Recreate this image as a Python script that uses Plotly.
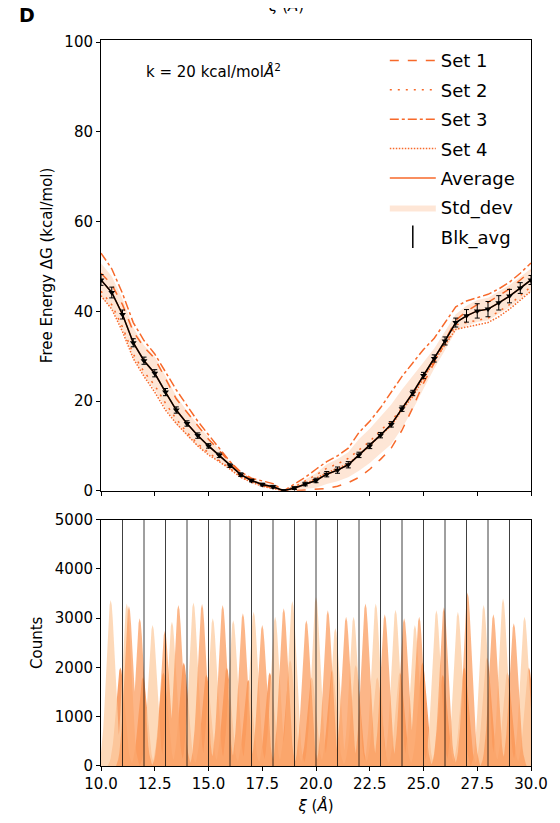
import numpy as np
import plotly.graph_objects as go
from plotly.subplots import make_subplots

# reaction coordinate (Angstrom) of the PMF points
xi = [10.0, 10.5, 11.0, 11.5, 12.0, 12.5, 13.0, 13.5, 14.0, 14.5, 15.0,
      15.5, 16.0, 16.5, 17.0, 17.5, 18.0, 18.5, 19.0, 19.5, 20.0,
      20.5, 21.0, 21.5, 22.0, 22.5, 23.0, 23.5, 24.0, 24.5, 25.0,
      25.5, 26.0, 26.5, 27.0, 27.5, 28.0, 28.5, 29.0, 29.5, 30.0]

# free energy of the four sets (kcal/mol)
set1 = [48.5, 46.0, 41.5, 35.5, 32.0, 29.5, 25.0, 20.5, 17.5, 14.5, 11.5,
        9.0, 6.3, 4.0, 2.5, 1.2, 0.6, 0.0, 0.0, 0.2, 0.4,
        0.5, 1.0, 1.8, 3.0, 4.8, 7.0, 9.5, 13.5, 18.5, 24.0,
        28.5, 33.5, 38.0, 40.0, 41.5, 42.0, 43.5, 45.0, 47.0, 49.0]
set2 = [44.5, 41.5, 36.5, 30.5, 26.5, 23.5, 19.5, 16.0, 13.0, 10.5, 8.5,
        6.8, 5.0, 3.2, 2.0, 1.4, 0.8, 0.0, 0.9, 2.2, 3.5,
        5.0, 6.0, 7.2, 9.0, 11.0, 13.5, 15.5, 18.5, 21.5, 25.5,
        29.0, 32.5, 37.0, 37.5, 38.0, 38.5, 40.0, 41.5, 43.5, 45.5]
set3 = [53.0, 49.5, 44.0, 37.5, 33.5, 30.5, 26.5, 22.5, 19.0, 15.5, 12.5,
        9.5, 6.5, 4.2, 2.8, 2.2, 1.6, 0.0, 1.5, 3.0, 4.8,
        6.5, 7.8, 9.5, 13.0, 15.5, 18.5, 22.0, 25.5, 28.5, 31.5,
        34.0, 37.5, 41.0, 42.3, 43.0, 43.8, 45.0, 46.5, 48.5, 50.8]
set4 = [43.5, 40.5, 35.5, 29.5, 25.5, 22.0, 18.0, 15.0, 12.5, 10.0, 8.0,
        6.5, 4.8, 3.0, 1.9, 1.0, 0.5, 0.0, 0.5, 1.5, 2.8,
        4.0, 5.0, 6.0, 8.0, 10.0, 12.5, 14.5, 18.0, 21.0, 25.0,
        29.0, 32.5, 36.0, 36.5, 37.0, 37.5, 38.8, 40.5, 42.5, 44.5]
average = [47.0, 44.2, 39.3, 33.0, 29.0, 26.2, 22.0, 18.0, 15.0, 12.3, 10.0,
           7.9, 5.6, 3.6, 2.3, 1.4, 0.9, 0.0, 0.6, 1.5, 2.3,
           3.7, 4.6, 5.8, 8.0, 10.0, 12.4, 14.8, 18.3, 21.8, 25.7,
           29.5, 33.4, 37.5, 39.0, 40.1, 40.5, 41.9, 43.4, 45.2, 47.0]
# block average error bars
blk_err = [1.2, 1.2, 1.0, 0.9, 0.8, 0.8, 0.8, 0.7, 0.6, 0.6, 0.5,
           0.5, 0.4, 0.4, 0.3, 0.3, 0.3, 0.2, 0.3, 0.4, 0.5,
           0.6, 0.7, 0.7, 0.6, 0.6, 0.6, 0.6, 0.6, 0.6, 0.7,
           0.8, 0.9, 1.0, 1.4, 1.6, 1.7, 1.6, 1.5, 1.2, 1.0]

# umbrella window histograms: peak centres (Angstrom) and peak counts
hist_light_c = [10.45, 11.2, 12.4, 13.3, 14.3, 15.2, 16.15, 17.1, 18.1, 18.9, 20.0,
                20.9, 21.75, 22.78, 23.7, 24.6, 25.6, 26.6, 27.8, 28.7, 29.7]
hist_light_h = [3370, 3300, 2860, 2930, 3320, 3000, 2960, 3130, 3030, 3350, 3430,
                2800, 3030, 3300, 3170, 2860, 3160, 3130, 3270, 3400, 3030]
hist_mid_c = [11.3, 11.8, 12.97, 13.6, 14.7, 15.66, 16.6, 17.5, 18.5, 19.55,
              20.55, 21.4, 22.3, 23.2, 24.1, 24.8, 25.95, 27.05, 28.25, 29.2]
hist_mid_h = [3250, 3000, 2740, 3270, 3290, 3270, 3100, 2860, 3200, 2960,
              3160, 3030, 3300, 3080, 3000, 3030, 3220, 3520, 3080, 2900]
hist_dark_c = [10.9, 11.95, 12.9, 13.85, 14.9, 15.85, 16.85, 17.85, 18.8, 19.8,
               20.75, 21.85, 22.85, 23.9, 24.95, 25.9, 26.9, 27.95, 28.9, 29.9]
hist_dark_h = [2000, 1800, 1900, 2100, 1850, 2000, 1750, 1900, 2150, 1800,
               1950, 2050, 1800, 1900, 2100, 1850, 2000, 2200, 1900, 2000]
# shape of one window histogram (offset in Angstrom, fraction of the peak)
peak_off = [-0.6, -0.55, -0.5, -0.45, -0.4, -0.35, -0.3, -0.25, -0.2, -0.15, -0.1, -0.05, 0.0,
            0.05, 0.1, 0.15, 0.2, 0.25, 0.3, 0.35, 0.4, 0.45, 0.5, 0.55, 0.6]
peak_frac = [0.0, 0.02, 0.04, 0.08, 0.135, 0.22, 0.33, 0.46, 0.61, 0.75, 0.88, 0.97, 1.0,
             0.97, 0.88, 0.75, 0.61, 0.46, 0.33, 0.22, 0.135, 0.08, 0.04, 0.02, 0.0]
window_lines = [11, 12, 13, 14, 15, 16, 17, 18, 19, 20, 21, 22, 23, 24, 25, 26, 27, 28, 29]

ORANGE = '#f7692a'
FONT = 'DejaVu Sans'

fig = make_subplots(rows=2, cols=1, shared_xaxes=False)

# std dev band
std = np.std(np.array([set1, set2, set3, set4]), axis=0)
avg = np.array(average)
fig.add_trace(go.Scatter(x=xi, y=avg + std, mode='lines', line=dict(width=0),
                         showlegend=False, hoverinfo='skip'), row=1, col=1)
fig.add_trace(go.Scatter(x=xi, y=avg - std, mode='lines', line=dict(width=0),
                         fill='tonexty', fillcolor='rgba(252,200,165,0.45)',
                         name='Std_dev', legendrank=6, legendgroup='g6'), row=1, col=1)

sets = [(set1, 'Set 1', 'dash'), (set2, 'Set 2', '2px,6px'),
        (set3, 'Set 3', 'dashdot'), (set4, 'Set 4', '1.5px,1.5px')]
for i, (vals, nm, dash) in enumerate(sets):
    fig.add_trace(go.Scatter(x=xi, y=vals, mode='lines', name=nm,
                             line=dict(color=ORANGE, width=1.5, dash=dash),
                             legendrank=i + 1, legendgroup='g%d' % (i + 1)), row=1, col=1)

fig.add_trace(go.Scatter(x=xi, y=average, mode='lines', name='Average',
                         line=dict(color=ORANGE, width=1.5),
                         legendrank=5, legendgroup='g5'), row=1, col=1)

# block average: black line with triangles and error bars
fig.add_trace(go.Scatter(x=xi, y=average, mode='lines+markers', showlegend=False,
                         line=dict(color='black', width=1.5),
                         marker=dict(symbol='triangle-down', size=6, color='black'),
                         error_y=dict(type='data', array=blk_err, color='black',
                                      thickness=1, width=2.5)), row=1, col=1)
fig.add_trace(go.Scatter(x=[None], y=[None], mode='markers', name='Blk_avg',
                         marker=dict(symbol='line-ns-open', size=16, color='black',
                                     line=dict(color='black', width=1.5)),
                         legendrank=7, legendgroup='g7'), row=1, col=1)

# window histograms
def peaks(centres, heights):
    xs, ys = [], []
    for c, h in zip(centres, heights):
        xs += [c + o for o in peak_off] + [None]
        ys += [h * f for f in peak_frac] + [None]
    return xs, ys

for centres, heights, col, op in [(hist_dark_c, hist_dark_h, '#f7782a', 0.7),
                                  (hist_light_c, hist_light_h, '#fdd0a8', 0.8),
                                  (hist_mid_c, hist_mid_h, '#fb9a5a', 0.72)]:
    hx, hy = peaks(centres, heights)
    fig.add_trace(go.Scatter(x=hx, y=hy, mode='lines', line=dict(width=0),
                             fill='toself', fillcolor=col, opacity=op,
                             showlegend=False, hoverinfo='skip'), row=2, col=1)

for xv in window_lines:
    fig.add_vline(x=xv, line=dict(color='rgba(0,0,0,0.75)', width=1), row=2, col=1)

axis_style = dict(showline=True, mirror=True, linecolor='black', linewidth=1,
                  ticks='outside', ticklen=4, tickcolor='black', showgrid=False,
                  zeroline=False, tickfont=dict(family=FONT, size=15, color='black'))

fig.update_xaxes(range=[10, 30], tick0=10, dtick=2.5, **axis_style)
fig.update_xaxes(showticklabels=False, row=1, col=1)
fig.update_xaxes(tickformat='.1f', row=2, col=1,
                 title=dict(text='<i>ξ</i> (<i>Å</i>)', standoff=8,
                            font=dict(family=FONT, size=15, color='black')))
fig.update_yaxes(**axis_style)
fig.update_yaxes(range=[0, 100.5], dtick=20, domain=[0.3791, 1], row=1, col=1,
                 title=dict(text='Free Energy ΔG (kcal/mol)', standoff=8,
                            font=dict(family=FONT, size=15, color='black')))
fig.update_yaxes(range=[0, 5000], dtick=1000, domain=[0, 0.3393], row=2, col=1,
                 title=dict(text='Counts', standoff=8,
                            font=dict(family=FONT, size=15, color='black')))

fig.add_annotation(text='k = 20 kcal/mol<i>Å</i><sup>2</sup>', xref='x', yref='y',
                   x=12.0, y=93.5, xanchor='left', yanchor='middle', showarrow=False,
                   font=dict(family=FONT, size=15, color='black'))
fig.add_annotation(text='<b>D</b>', xref='paper', yref='paper', x=-0.195, y=1.016,
                   xanchor='left', yanchor='bottom', showarrow=False,
                   font=dict(family=FONT, size=19, color='black'))
# x label of the panel above, cut by the page edge
fig.add_annotation(text='<i>ξ</i> (<i>Å</i>)', xref='paper', yref='paper', x=0.43,
                   y=1.032, xanchor='center', yanchor='bottom', showarrow=False,
                   font=dict(family=FONT, size=15, color='black'))

# the page body adds 8 px around the figure, so the figure is 8 px smaller
fig.update_layout(
    width=552, height=815,
    margin=dict(l=93, r=25, t=32, b=55),
    plot_bgcolor='white', paper_bgcolor='white',
    font=dict(family=FONT, color='black'),
    legend=dict(x=0.66, y=0.997, xanchor='left', yanchor='top',
                font=dict(family=FONT, size=18, color='black'),
                bgcolor='rgba(0,0,0,0)', tracegroupgap=3, itemwidth=46),
)

fig.write_html('out.html')
